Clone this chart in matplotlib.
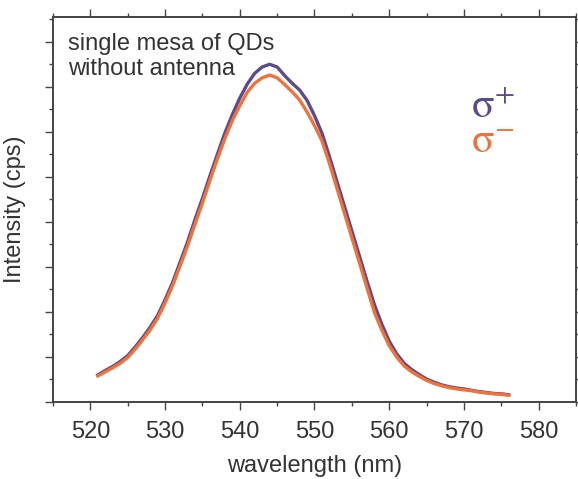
import matplotlib
matplotlib.use('Agg')
import matplotlib.pyplot as plt
from matplotlib.ticker import MultipleLocator, NullFormatter

plt.rcParams['font.family'] = ['Liberation Sans', 'DejaVu Sans']
plt.rcParams['mathtext.fontset'] = 'stix'

# wavelength (nm), read at 1 nm steps
wavelength = [521, 522, 523, 524, 525, 526, 527, 528, 529, 530,
              531, 532, 533, 534, 535, 536, 537, 538, 539, 540,
              541, 542, 543, 544, 545, 546, 547, 548, 549, 550,
              551, 552, 553, 554, 555, 556, 557, 558, 559, 560,
              561, 562, 563, 564, 565, 566, 567, 568, 569, 570,
              571, 572, 573, 574, 575, 576]

# intensity, arbitrary units (one unit per major tick)
sigma_minus = [0.58, 0.67, 0.76, 0.86, 0.99, 1.17, 1.38, 1.60, 1.86, 2.20,
               2.58, 3.02, 3.46, 3.95, 4.42, 4.92, 5.40, 5.85, 6.25, 6.58,
               6.88, 7.08, 7.20, 7.26, 7.20, 7.05, 6.89, 6.71, 6.44, 6.14,
               5.80, 5.30, 4.75, 4.20, 3.65, 3.10, 2.55, 2.00, 1.60, 1.25,
               1.00, 0.80, 0.67, 0.57, 0.48, 0.41, 0.36, 0.32, 0.29, 0.27,
               0.25, 0.22, 0.20, 0.18, 0.17, 0.15]

sigma_plus = [0.60, 0.70, 0.79, 0.90, 1.03, 1.22, 1.43, 1.66, 1.92, 2.27,
              2.65, 3.10, 3.55, 4.05, 4.52, 5.02, 5.50, 5.97, 6.38, 6.75,
              7.06, 7.30, 7.44, 7.50, 7.44, 7.25, 7.08, 6.93, 6.70, 6.36,
              5.97, 5.45, 4.90, 4.35, 3.80, 3.25, 2.70, 2.17, 1.73, 1.35,
              1.07, 0.86, 0.72, 0.61, 0.51, 0.44, 0.38, 0.34, 0.31, 0.29,
              0.26, 0.23, 0.21, 0.19, 0.18, 0.16]

purple = '#5d4a8c'
orange = '#f07239'
dark = '#333333'

fig = plt.figure(figsize=(5.78, 4.79), dpi=100)
ax = fig.add_axes([0.0917, 0.1608, 0.9048, 0.8037])

ax.plot(wavelength, sigma_plus, color=purple, lw=2.4)
ax.plot(wavelength, sigma_minus, color=orange, lw=2.4)

ax.set_xlim(515, 585)
ax.set_ylim(0, 8.55)
ax.xaxis.set_major_locator(MultipleLocator(10))
ax.xaxis.set_minor_locator(MultipleLocator(5))
ax.yaxis.set_major_locator(MultipleLocator(1))
ax.yaxis.set_minor_locator(MultipleLocator(0.5))
ax.yaxis.set_major_formatter(NullFormatter())

ax.tick_params(which='both', direction='out', top=True, right=True,
               color='#444444', width=1.0, labelsize=17, labelcolor=dark)
ax.tick_params(which='major', length=6)
ax.tick_params(which='minor', length=3)
ax.tick_params(axis='x', pad=8)
for s in ax.spines.values():
    s.set_color('#444444')
    s.set_linewidth(1.4)

ax.set_xlabel('wavelength (nm)', fontsize=17, color=dark, labelpad=8)
ax.set_ylabel('Intensity (cps)', fontsize=17, color=dark, labelpad=10)

ax.text(517.0, 8.2, 'single mesa of QDs\nwithout antenna', fontsize=17,
        color=dark, va='top', ha='left', linespacing=1.2)
ax.text(570.9, 6.31, r'$\mathrm{\sigma}^{+}$', fontsize=30, color=purple,
        va='baseline', ha='left')
ax.text(570.9, 5.53, r'$\mathrm{\sigma}^{-}$', fontsize=30, color=orange,
        va='baseline', ha='left')

fig.savefig('out.png', dpi=100)
